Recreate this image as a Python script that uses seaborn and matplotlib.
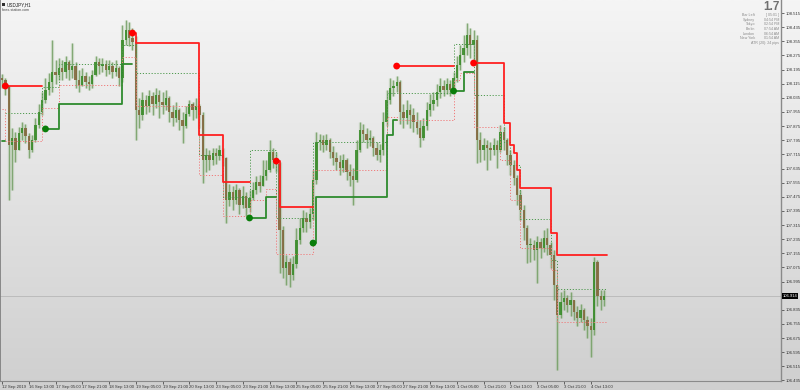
import numpy as np
import pandas as pd
import matplotlib
matplotlib.use("Agg")
import matplotlib.pyplot as plt
from matplotlib.colors import LinearSegmentedColormap
import seaborn as sns

# ---------------- data ----------------
symbol = "USDJPY,H1"
site = "forex-station.com"
first_open = 108.150
close = [108.136, 108.102, 107.768, 107.808, 107.740, 107.836, 107.864, 107.819, 107.740, 107.796,
         107.881, 107.955, 108.023, 108.079, 108.125, 108.181, 108.164, 108.204, 108.181, 108.238,
         108.193, 108.215, 108.136, 108.108, 108.159, 108.125, 108.113, 108.164, 108.238, 108.215,
         108.227, 108.193, 108.215, 108.181, 108.204, 108.147, 108.363, 108.419, 108.374, 108.351,
         107.966, 107.938, 108.023, 107.989, 108.045, 108.000, 108.051, 108.011, 107.994, 108.034,
         107.955, 107.921, 107.966, 107.910, 107.876, 107.944, 108.000, 107.966, 107.989, 107.938,
         107.683, 107.711, 107.683, 107.723, 107.706, 107.740, 107.694, 107.457, 107.502, 107.457,
         107.513, 107.428, 107.479, 107.411, 107.468, 107.513, 107.559, 107.536, 107.592, 107.626,
         107.728, 107.683, 107.660, 107.287, 107.072, 107.106, 107.032, 107.094, 107.230, 107.298,
         107.355, 107.332, 107.377, 107.570, 107.785, 107.796, 107.768, 107.796, 107.728, 107.694,
         107.672, 107.638, 107.683, 107.615, 107.592, 107.570, 107.740, 107.853, 107.830, 107.796,
         107.808, 107.751, 107.711, 107.740, 107.898, 108.023, 108.091, 108.102, 108.125, 107.955,
         107.921, 107.966, 107.938, 107.898, 107.864, 107.808, 107.876, 107.966, 108.000, 108.023,
         108.068, 108.102, 108.079, 108.113, 108.079, 108.147, 108.221, 108.278, 108.317, 108.391,
         108.334, 108.363, 107.796, 107.740, 107.768, 107.751, 107.740, 107.768, 107.740, 107.842,
         107.796, 107.711, 107.655, 107.581, 107.485, 107.400, 107.298, 107.202, 107.202, 107.174,
         107.219, 107.185, 107.241, 107.202, 107.145, 106.975, 106.805, 106.879, 106.902, 106.862,
         106.890, 106.822, 106.788, 106.834, 106.777, 106.743, 106.721, 107.106, 106.913, 106.890,
         106.913]
high = [108.170, 108.147, 108.091, 107.864, 107.842, 107.870, 107.898, 107.887, 107.836, 107.825,
        107.921, 108.000, 108.068, 108.147, 108.176, 108.363, 108.249, 108.261, 108.249, 108.272,
        108.249, 108.346, 108.238, 108.193, 108.204, 108.181, 108.159, 108.193, 108.272, 108.261,
        108.261, 108.249, 108.249, 108.238, 108.249, 108.215, 108.447, 108.476, 108.464, 108.430,
        108.385, 108.034, 108.068, 108.051, 108.079, 108.068, 108.091, 108.079, 108.068, 108.079,
        108.045, 107.994, 108.011, 107.977, 107.955, 107.989, 108.023, 108.011, 108.034, 108.000,
        107.955, 107.751, 107.740, 107.751, 107.751, 107.768, 107.751, 107.700, 107.547, 107.536,
        107.547, 107.525, 107.536, 107.502, 107.513, 107.559, 107.592, 107.598, 107.683, 107.683,
        107.796, 107.751, 107.728, 107.672, 107.309, 107.145, 107.128, 107.140, 107.298, 107.355,
        107.400, 107.389, 107.411, 107.626, 107.842, 107.830, 107.825, 107.830, 107.808, 107.762,
        107.728, 107.711, 107.717, 107.694, 107.660, 107.638, 107.796, 107.898, 107.887, 107.864,
        107.853, 107.819, 107.785, 107.774, 107.955, 108.079, 108.147, 108.136, 108.159, 108.136,
        108.000, 108.023, 108.000, 107.977, 107.955, 107.910, 107.921, 108.011, 108.057, 108.068,
        108.113, 108.147, 108.136, 108.147, 108.136, 108.181, 108.272, 108.334, 108.391, 108.459,
        108.430, 108.419, 108.391, 107.842, 107.808, 107.796, 107.785, 107.808, 107.796, 107.881,
        107.870, 107.808, 107.740, 107.683, 107.598, 107.513, 107.428, 107.315, 107.241, 107.230,
        107.253, 107.241, 107.287, 107.298, 107.219, 107.174, 106.975, 106.936, 106.947, 106.919,
        106.936, 106.890, 106.856, 106.868, 106.845, 106.800, 106.788, 107.134, 107.117, 106.947,
        106.947]
low = [108.091, 108.051, 107.457, 107.513, 107.672, 107.751, 107.796, 107.779, 107.694, 107.728,
       107.785, 107.864, 107.938, 108.006, 108.051, 108.068, 108.113, 108.136, 108.136, 108.147,
       108.136, 108.147, 108.091, 108.068, 108.102, 108.091, 108.079, 108.091, 108.159, 108.170,
       108.181, 108.159, 108.170, 108.147, 108.159, 108.102, 108.125, 108.334, 108.329, 108.306,
       107.796, 107.864, 107.910, 107.944, 107.955, 107.938, 107.977, 107.921, 107.944, 107.966,
       107.898, 107.876, 107.898, 107.853, 107.779, 107.864, 107.932, 107.910, 107.921, 107.864,
       107.553, 107.615, 107.626, 107.655, 107.660, 107.683, 107.649, 107.326, 107.423, 107.400,
       107.434, 107.377, 107.411, 107.366, 107.389, 107.457, 107.491, 107.502, 107.536, 107.570,
       107.615, 107.638, 107.615, 107.043, 107.015, 106.975, 106.964, 107.004, 107.072, 107.207,
       107.275, 107.275, 107.298, 107.343, 107.547, 107.740, 107.728, 107.740, 107.694, 107.655,
       107.626, 107.598, 107.615, 107.570, 107.536, 107.428, 107.559, 107.728, 107.785, 107.751,
       107.762, 107.706, 107.683, 107.672, 107.711, 107.876, 108.000, 108.045, 108.068, 107.887,
       107.864, 107.887, 107.864, 107.842, 107.830, 107.757, 107.796, 107.853, 107.932, 107.966,
       107.989, 108.034, 108.045, 108.057, 108.045, 108.057, 108.125, 108.193, 108.238, 108.278,
       108.261, 108.238, 107.666, 107.672, 107.683, 107.626, 107.683, 107.711, 107.638, 107.728,
       107.740, 107.655, 107.598, 107.542, 107.428, 107.343, 107.230, 107.100, 107.106, 107.117,
       106.987, 107.128, 107.162, 107.145, 107.072, 106.890, 106.494, 106.788, 106.834, 106.822,
       106.800, 106.777, 106.743, 106.766, 106.721, 106.675, 106.568, 106.692, 106.856, 106.834,
       106.856]
current_price = 106.914
current_price_text = "106.914"

# step lines: (bar index where a level starts, level); last pair closes the run
red_stop_runs = [
    [(1, 108.102), (12, 108.102)],
    [(39, 108.402), (40, 108.346), (59, 107.825), (66, 107.559), (74, 107.559)],
    [(82, 107.677), (83, 107.417), (93, 107.417)],
    [(118, 108.215), (135, 108.215)],
    [(141, 108.232), (150, 107.893), (152, 107.768), (153, 107.723), (154, 107.626),
     (155, 107.525), (164, 107.270), (166, 107.145), (181, 107.145)],
]
green_stop_runs = [
    [(0, 107.791), (1, 107.791)],
    [(13, 107.859), (17, 108.000), (36, 108.227), (39, 108.227)],
    [(74, 107.355), (79, 107.474), (82, 107.474)],
    [(93, 107.213), (94, 107.474), (115, 107.825), (117, 107.910), (118, 107.910)],
    [(135, 108.074), (138, 108.181), (141, 108.181)],
]
green_mid_run = [(1, 107.949), (12, 108.096), (17, 108.227), (36, 108.334), (40, 108.176),
                 (59, 107.711), (66, 107.474), (74, 107.740), (82, 107.355), (93, 107.785),
                 (115, 108.062), (135, 108.340), (141, 108.051), (150, 107.785), (152, 107.655),
                 (155, 107.349), (164, 107.117), (166, 106.953), (181, 106.953)]
red_mid_run = [(0, 107.972), (1, 107.791), (12, 107.977), (17, 108.108), (36, 108.266),
               (40, 107.989), (59, 107.598), (66, 107.366), (74, 107.457), (79, 107.519),
               (82, 107.151), (93, 107.626), (115, 107.926), (118, 107.910), (135, 108.136),
               (137, 108.176), (141, 107.870), (149, 107.683), (152, 107.457), (155, 107.185),
               (164, 107.060), (166, 106.766), (181, 106.766)]
red_dot_bar = [1, 39, 82, 118, 141]
red_dot_price = [108.102, 108.402, 107.677, 108.215, 108.232]
green_dot_bar = [13, 74, 93, 135]
green_dot_price = [107.859, 107.355, 107.213, 108.074]

time_labels = ["12 Sep 2019", "16 Sep 13:00", "17 Sep 05:00", "17 Sep 21:00", "18 Sep 13:00",
               "19 Sep 05:00", "19 Sep 21:00", "20 Sep 13:00", "23 Sep 05:00", "23 Sep 21:00",
               "24 Sep 13:00", "25 Sep 05:00", "25 Sep 21:00", "26 Sep 13:00", "27 Sep 05:00",
               "27 Sep 21:00", "30 Sep 13:00", "1 Oct 05:00", "1 Oct 21:00", "2 Oct 13:00",
               "3 Oct 05:00", "3 Oct 21:00", "4 Oct 13:00"]
time_label_bars = [0, 8, 16, 24, 32, 40, 48, 56, 64, 72, 80, 88, 96, 104, 112, 120, 128,
                   136, 144, 152, 160, 168, 176]
price_ticks = [108.515, 108.435, 108.355, 108.275, 108.195, 108.115, 108.035, 107.955,
               107.875, 107.795, 107.715, 107.635, 107.555, 107.475, 107.395, 107.315,
               107.235, 107.155, 107.075, 106.995, 106.835, 106.755, 106.675, 106.595,
               106.515, 106.435]
spread_text = "1.7"
info_labels = ["Bar Left", "Sydney", "Tokyo", "Berlin", "London", "New York"]
info_values = ["[ 05:01 ]", "04:54 PM", "02:54 PM", "07:54 AM", "06:54 AM", "01:54 AM"]
atr_text = "ATR (20): 24 pips"

# ---------------- figure ----------------
sns.set_theme(style="white")
plt.rcParams['font.family'] = ['Liberation Sans', 'DejaVu Sans']

W, H = 800, 390
fig = plt.figure(figsize=(W / 100, H / 100), dpi=100)

def fx(px):
    return px / W

def fy(py):
    return 1 - py / H

bg = fig.add_axes([0, 0, 1, 1], zorder=-10)
grad = np.linspace(0, 1, 256).reshape(-1, 1)
cmap = LinearSegmentedColormap.from_list('bg', ['#f5f5f5', '#cfcfcf'])
bg.imshow(grad, aspect='auto', cmap=cmap, extent=[0, 1, 0, 1], origin='upper')
bg.set_axis_off()

ax = fig.add_axes([0.0, fy(381), fx(781), 381 / H])
ax.set_facecolor('none')

n = len(close)
x = np.arange(n)
c = np.array(close)
o = np.r_[first_open, c[:-1]]
h = np.maximum(np.array(high), np.maximum(o, c))
l = np.minimum(np.array(low), np.minimum(o, c))
up = c >= o

ax.axhline(current_price, color='#bcbcbc', lw=0.7, zorder=1)

# translucent halo + wicks + bodies
ax.vlines(x, l, h, color='#8fb481', lw=2.4, alpha=0.28, zorder=2)
ax.vlines(x, l, h, color='#6f9c5f', lw=0.9, alpha=0.8, zorder=2)
body_bot = np.minimum(o, c)
body_h = np.maximum(np.abs(c - o), 0.004)
ax.bar(x[up], body_h[up], bottom=body_bot[up], width=0.7, color='#3a8c2a',
       alpha=0.9, linewidth=0, zorder=3)
ax.bar(x[~up], body_h[~up], bottom=body_bot[~up], width=0.7, color='#84683e',
       alpha=0.9, linewidth=0, zorder=3)

def draw_run(run, color, lw, ls='-', z=4):
    df = pd.DataFrame(run, columns=['bar', 'level'])
    sns.lineplot(data=df, x='bar', y='level', ax=ax, color=color, linewidth=lw,
                 linestyle=ls, drawstyle='steps-post', estimator=None, sort=False,
                 zorder=z)

draw_run(green_mid_run, '#4f9a4f', 0.7, (0, (1.2, 1.8)), 4)
draw_run(red_mid_run, '#f07a7a', 0.7, (0, (1.2, 1.8)), 4)
for run in red_stop_runs:
    draw_run(run, '#ff2020', 1.3, '-', 5)
for run in green_stop_runs:
    draw_run(run, '#2e8b2e', 1.3, '-', 5)

sns.scatterplot(x=red_dot_bar, y=red_dot_price, ax=ax, color='#ff0000', s=24,
                edgecolor='none', zorder=6)
sns.scatterplot(x=green_dot_bar, y=green_dot_price, ax=ax, color='#0a7d0a', s=24,
                edgecolor='none', zorder=6)

ax.set_xlim(-0.6, 232.9)
ax.set_ylim(106.432, 108.589)
ax.set_xlabel('')
ax.set_ylabel('')

ax.yaxis.tick_right()
ax.set_yticks(price_ticks)
ax.set_yticklabels([f"{p:.3f}" for p in price_ticks])
ax.tick_params(axis='y', labelsize=3.1, length=2, width=0.5, colors='#333333', pad=1.5,
               right=True, left=False)
ax.set_xticks(time_label_bars)
ax.set_xticklabels(time_labels, ha='left')
ax.tick_params(axis='x', labelsize=3.1, length=2, width=0.5, colors='#333333', pad=1,
               bottom=True)

ax.spines['top'].set_visible(False)
ax.spines['left'].set_color('#7a7a7a')
ax.spines['left'].set_linewidth(1.2)
ax.spines['right'].set_color('#8a8a8a')
ax.spines['right'].set_linewidth(1.0)
ax.spines['bottom'].set_color('#8a8a8a')
ax.spines['bottom'].set_linewidth(0.8)

ax.text(1.002, current_price, current_price_text, transform=ax.get_yaxis_transform(),
        ha='left', va='center', fontsize=3.0, color='white', zorder=10,
        bbox=dict(facecolor='black', edgecolor='none', pad=0.7), clip_on=False)

# top-left header
fig.patches.append(plt.Rectangle((fx(1.5), fy(6)), 3.5 / W, 3.5 / H, transform=fig.transFigure,
                                 facecolor='#303030', edgecolor='none'))
fig.text(fx(7), fy(4.3), symbol, ha='left', va='center', fontsize=3.3, color='#202020')
fig.text(fx(1.5), fy(9.8), site, ha='left', va='center', fontsize=2.6, color='#404040')

# top-right info panel
fig.text(fx(780), fy(7.5), spread_text, ha='right', va='center', fontsize=8.5,
         fontweight='bold', color='#707070')
rows_y = [15.3, 19.8, 24.4, 29.0, 33.6, 38.2]
for yy, lab, val in zip(rows_y, info_labels, info_values):
    fig.text(fx(755), fy(yy), lab, ha='right', va='center', fontsize=2.6, color='#8a8a8a')
    fig.text(fx(779), fy(yy), val, ha='right', va='center', fontsize=2.6, color='#8a8a8a')
fig.text(fx(779), fy(43), atr_text, ha='right', va='center', fontsize=2.6, color='#8a8a8a')

fig.savefig('out.png', dpi=100)
